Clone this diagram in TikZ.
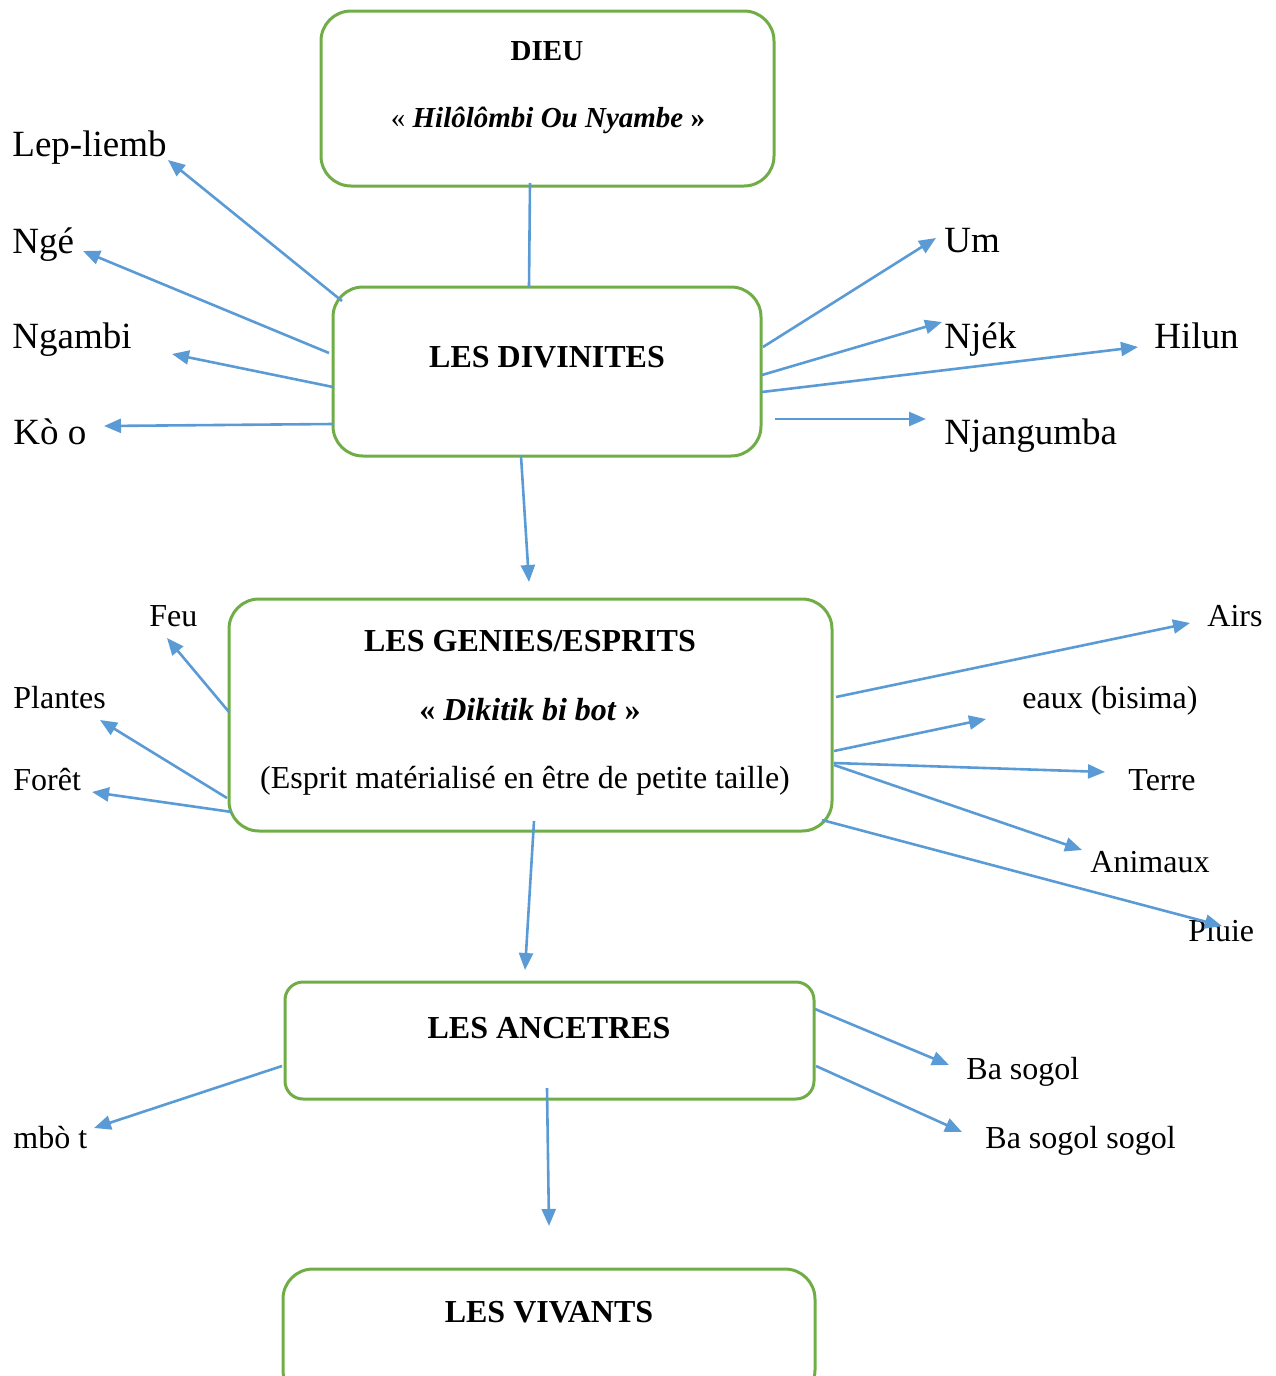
\documentclass[tikz,border=0pt]{standalone}
\usepackage{fontspec}
\setmainfont{Liberation Serif}
\usetikzlibrary{arrows.meta}
\definecolor{boxgreen}{HTML}{70AD47}
\definecolor{arrowblue}{HTML}{5B9BD5}
\begin{document}
\begin{tikzpicture}[x=0.5pt,y=-0.5pt,
  box/.style={draw=boxgreen, line width=1.5pt, rounded corners=15pt, inner sep=0pt},
  link/.style={draw=arrowblue, line width=1.3pt},
  arr/.style={link, -{Triangle[length=8.5pt,width=7pt]}},
  big/.style={anchor=base west, inner sep=0pt, font=\fontsize{18.5}{22}\selectfont},
  small/.style={anchor=base west, inner sep=0pt, font=\fontsize{16}{19}\selectfont},
  title/.style={anchor=base, inner sep=0pt, font=\fontsize{16}{19}\selectfont\bfseries},
]
\useasboundingbox (0,0) rectangle (1275,1376);
\clip (0,0) rectangle (1275,1376);

% hierarchy boxes
\node[box, minimum width=226.5pt, minimum height=87.5pt] (dieu) at (547.5,98.5) {};
\node[box, minimum width=214pt, minimum height=84.5pt] (div) at (547,371.5) {};
\node[box, minimum width=301.5pt, minimum height=116pt] (gen) at (530.5,715) {};
\node[box, rounded corners=9pt, minimum width=264.5pt, minimum height=58.5pt] (anc) at (549.5,1040.5) {};
\node[box, minimum width=266pt, minimum height=65.5pt] (viv) at (549,1334.5) {};

% box texts
\node[title, font=\fontsize{14.5}{17}\selectfont\bfseries] (dieuT) at (547,60) {DIEU};
\node[title, font=\fontsize{14.5}{17}\selectfont\bfseries] (dieuN) at (548,127) {\textmd{«} \textit{Hilôlômbi Ou Nyambe} »};
\node[title] (divT) at (547,367) {LES DIVINITES};
\node[title] (genT) at (530,651) {LES GENIES/ESPRITS};
\node[title] (genN) at (530,720) {« \textit{Dikitik bi bot} »};
\node[anchor=base, inner sep=0pt, font=\fontsize{16}{19}\selectfont] (genD) at (525,788) {(Esprit matérialisé en être de petite taille)};
\node[title] (ancT) at (549,1038) {LES ANCETRES};
\node[title] (vivT) at (549,1322) {LES VIVANTS};

% divinities
\node[big] (lep) at (12,156) {Lep-liemb};
\node[big] (nge) at (12,253) {Ngé};
\node[big] (ngambi) at (12,348) {Ngambi};
\node[big] (koo) at (13,444) {Kò o};
\node[big] (um) at (944,252) {Um};
\node[big] (njek) at (944,348) {Njék};
\node[big] (hilun) at (1154,348) {Hilun};
\node[big] (njang) at (944,444) {Njangumba};

% spirits
\node[small] (feu) at (149,626) {Feu};
\node[small] (plantes) at (13,708) {Plantes};
\node[small] (foret) at (13,790) {Forêt};
\node[small] (airs) at (1207,626) {Airs};
\node[small] (eaux) at (1022,708) {eaux (bisima)};
\node[small] (terre) at (1128,790) {Terre};
\node[small] (animaux) at (1090,872) {Animaux};
\node[small] (pluie) at (1188,941) {Pluie};

% ancestors
\node[small] (mbot) at (13,1148) {mbò t};
\node[small] (basogol) at (966,1079) {Ba sogol};
\node[small] (basogol2) at (985,1148) {Ba sogol sogol};

% connector ends
\coordinate (dieuOut) at (530,183);
\coordinate (divIn) at (529,287);
\coordinate (divLep) at (342,301);   \coordinate (tLep) at (168,160);
\coordinate (divNge) at (329,353);   \coordinate (tNge) at (83,251);
\coordinate (divNga) at (333,387);   \coordinate (tNga) at (172,354);
\coordinate (divKoo) at (333,424);   \coordinate (tKoo) at (104,426);
\coordinate (divUm) at (763,347);    \coordinate (tUm) at (936,238);
\coordinate (divNjek) at (762,375);  \coordinate (tNjek) at (942,322);
\coordinate (divHil) at (762,392);   \coordinate (tHil) at (1138,347);
\coordinate (divNja) at (775,419);   \coordinate (tNja) at (926,419);
\coordinate (divDown) at (521,456);  \coordinate (tGen) at (529,582);
\coordinate (genFeu) at (229,712);   \coordinate (tFeu) at (167,638);
\coordinate (genPl) at (227,798);    \coordinate (tPl) at (100,720);
\coordinate (genFo) at (232,812);    \coordinate (tFo) at (92,792);
\coordinate (genAir) at (836,697);   \coordinate (tAir) at (1190,623);
\coordinate (genEau) at (834,751);   \coordinate (tEau) at (986,719);
\coordinate (genTer) at (834,763);   \coordinate (tTer) at (1105,772);
\coordinate (genAni) at (834,765);   \coordinate (tAni) at (1082,850);
\coordinate (genPlu) at (822,820);   \coordinate (tPlu) at (1222,926);
\coordinate (genDown) at (534,821);  \coordinate (tAnc) at (525,970);
\coordinate (ancMbo) at (282,1066);  \coordinate (tMbo) at (94,1128);
\coordinate (ancBa) at (815,1009);   \coordinate (tBa) at (949,1065);
\coordinate (ancBa2) at (816,1066);  \coordinate (tBa2) at (962,1132);
\coordinate (ancDown) at (547,1088); \coordinate (tViv) at (549,1226);

% connectors
\draw[link] (dieuOut) -- (divIn);
\draw[arr] (divLep) -- (tLep);
\draw[arr] (divNge) -- (tNge);
\draw[arr] (divNga) -- (tNga);
\draw[arr] (divKoo) -- (tKoo);
\draw[arr] (divUm) -- (tUm);
\draw[arr] (divNjek) -- (tNjek);
\draw[arr] (divHil) -- (tHil);
\draw[arr] (divNja) -- (tNja);
\draw[arr] (divDown) -- (tGen);
\draw[arr] (genFeu) -- (tFeu);
\draw[arr] (genPl) -- (tPl);
\draw[arr] (genFo) -- (tFo);
\draw[arr] (genAir) -- (tAir);
\draw[arr] (genEau) -- (tEau);
\draw[arr] (genTer) -- (tTer);
\draw[arr] (genAni) -- (tAni);
\draw[arr] (genPlu) -- (tPlu);
\draw[arr] (genDown) -- (tAnc);
\draw[arr] (ancMbo) -- (tMbo);
\draw[arr] (ancBa) -- (tBa);
\draw[arr] (ancBa2) -- (tBa2);
\draw[arr] (ancDown) -- (tViv);
\end{tikzpicture}
\end{document}
